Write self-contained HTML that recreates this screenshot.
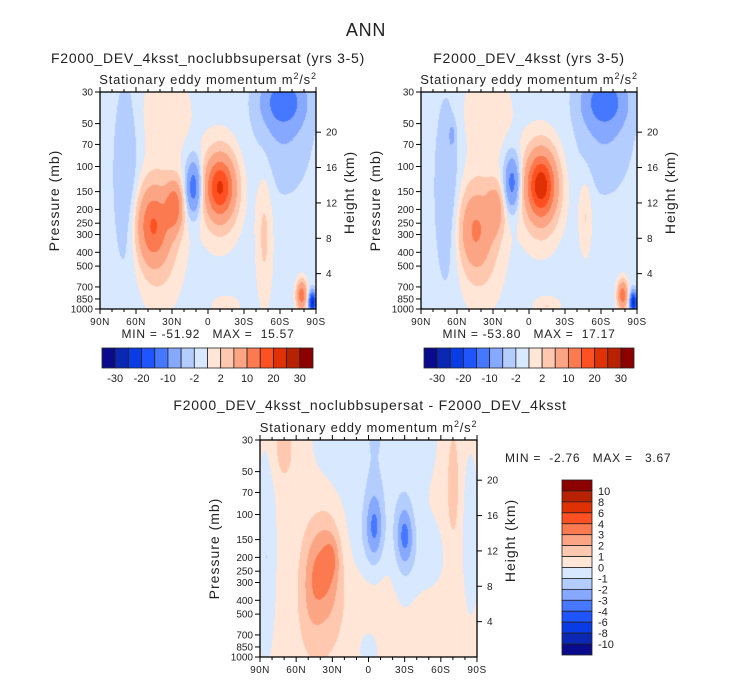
<!DOCTYPE html>
<html><head><meta charset="utf-8">
<style>
html,body{margin:0;padding:0;background:#fff;}
#wrap{position:relative;width:733px;height:680px;overflow:hidden;font-family:"Liberation Sans",sans-serif;}
canvas{position:absolute;}
svg{position:absolute;left:0;top:0;}
text{font-family:"Liberation Sans",sans-serif;fill:#222;}
.t{letter-spacing:0.75px;}
</style></head>
<body>
<div id="wrap">
<canvas id="c1" style="left:100px;top:92px" width="216" height="217"></canvas>
<canvas id="c2" style="left:421px;top:92px" width="216" height="217"></canvas>
<canvas id="c3" style="left:260px;top:440px" width="217" height="217"></canvas>
<svg id="s" width="733" height="680">
<text x="366" y="36" font-size="18" text-anchor="middle" class="t">ANN</text>
<text x="208" y="63" font-size="14" text-anchor="middle" class="t">F2000_DEV_4ksst_noclubbsupersat (yrs 3-5)</text>
<text x="529" y="63" font-size="14" text-anchor="middle" class="t">F2000_DEV_4ksst (yrs 3-5)</text>
<text x="370" y="410" font-size="14" text-anchor="middle" class="t">F2000_DEV_4ksst_noclubbsupersat - F2000_DEV_4ksst</text>
<text x="208" y="338" font-size="12" text-anchor="middle" class="t" xml:space="preserve">MIN = -51.92   MAX =  15.57</text>
<text x="529" y="338" font-size="12" text-anchor="middle" class="t" xml:space="preserve">MIN = -53.80   MAX =  17.17</text>
<text x="505" y="462" font-size="12" class="t" xml:space="preserve">MIN =  -2.76   MAX =   3.67</text>
</svg>
</div>
<script>
// ---- data: gaussian features (lat deg, pressure mb, amplitude, lat-width, log10p-width)
const p1Base = -1;
const p1Lat = [46, 28, 40, 35, -10, -10, 12, 68, -63, -63, -47, -78, -87, -15];
const p1P   = [260,190,300, 40, 140, 150,140,120, 35,  50, 300, 800, 900, 960];
const p1Amp = [13, 12, 4,  2.5, 17,  5, -13, -3.5,-10, -4, 3.5, 14, -25, 3];
const p1SL  = [9,  5,  14, 15,  8,  12, 4.5, 7,  12, 15,  5,   3,  2,  8];
const p1SP  = [.18,.12,.35,.2, .14,.25,.13,.45,.12,.3, .35,.07,.05,.05];

const p2Base = -1;
const p2Lat = [45, 28, 40, 35, -10, -10, 14, 68, 64, -63, -63, -47, -78, -87, -15];
const p2P   = [280,200,300, 40, 135, 150,130,150, 60,  35,  50, 220, 800, 900, 960];
const p2Amp = [8,  7,  4,  2.5, 19,  6, -12, -3.5,-4,-10, -4, 3.2, 14, -25, 3];
const p2SL  = [9,  5,  14, 15,  8,  12, 4.5, 7,  2,  12, 15,  4,   3,  2,  8];
const p2SP  = [.18,.12,.35,.2, .15,.25,.13,.45,.06,.12,.3, .2, .07,.05,.05];

const p3Base = 0.5;
const p3Lat = [-5, 85, -85, -5, 0,  -30, -30, 35, 47, 30, 40, 70, -70, 0,  -50];
const p3P   = [30, 200,150,120, 150, 140, 180,230,300,200,400, 35, 60, 900, 200];
const p3Amp = [-1.5,-1.5,-1.2,-2.5,-1,-2.5,-1, 2.2,1.2,1, 0.8,1.2,1.3,-1, -0.8];
const p3SL  = [35, 6,  5,  5,  12,  5,  8,  8,  6,  4, 14, 6,  4,  6,  12];
const p3SP  = [.4, .5, .4, .18,.2, .15,.3, .25,.25,.1,.35,.15,.3, .1, .2];

const levelsTop = [-30,-25,-20,-15,-10,-5,-2,0,2,5,10,15,20,25,30];
const levelsDiff = [-10,-8,-6,-4,-3,-2,-1,0,1,2,3,4,6,8,10];
const labelsTop = ["-30","-20","-10","-2","2","10","20","30"];
const labelsDiff = ["10","8","6","4","3","2","1","0","-1","-2","-3","-4","-6","-8","-10"];
const presTicks = [30,50,70,100,150,200,250,300,400,500,700,850,1000];
const heightTicks = [4,8,12,16,20];
const latTicks = [90,60,30,0,-30,-60,-90];
const latLabels = ["90N","60N","30N","0","30S","60S","90S"];

const colors = ["#0a0a8c","#0a28b4","#0a3ce6","#1e55ff","#4678ff","#87a8ff","#b4cdff","#d7e8ff",
                "#ffe6d7","#ffc8af","#fca584","#fc7a50","#ff5021","#e03105","#b82202","#8c0000"];

const svg = document.getElementById('s');
const NS = "http://www.w3.org/2000/svg";
function mk(tag, attrs, parent){const e=document.createElementNS(NS,tag);for(const k in attrs)e.setAttribute(k,attrs[k]);(parent||svg).appendChild(e);return e;}

function fieldVal(base,la,pp,am,sl,sp,lat,p){
  let v=base;const lp=Math.log10(p);
  for(let i=0;i<la.length;i++){
    const a=(lat-la[i])/sl[i], b=(lp-Math.log10(pp[i]))/sp[i];
    v+=am[i]*Math.exp(-0.5*(a*a+b*b));
  }
  return v;
}
function levelIdx(v,lev){let i=0;while(i<lev.length&&v>=lev[i])i++;return i;}
function hex(c){return [parseInt(c.substr(1,2),16),parseInt(c.substr(3,2),16),parseInt(c.substr(5,2),16)];}
const rgb = colors.map(hex);

function fill(id,base,la,pp,am,sl,sp,lev){
  const cv=document.getElementById(id),ctx=cv.getContext('2d');
  const W=cv.width,H=cv.height,img=ctx.createImageData(W,H);
  for(let y=0;y<H;y++){const p=30*Math.pow(1000/30,(y+.5)/H);
    for(let x=0;x<W;x++){const lat=90-(x+.5)/W*180;
      const c=rgb[levelIdx(fieldVal(base,la,pp,am,sl,sp,lat,p),lev)];
      const o=(y*W+x)*4;img.data[o]=c[0];img.data[o+1]=c[1];img.data[o+2]=c[2];img.data[o+3]=255;}}
  ctx.putImageData(img,0,0);
}
fill('c1',p1Base,p1Lat,p1P,p1Amp,p1SL,p1SP,levelsTop);
fill('c2',p2Base,p2Lat,p2P,p2Amp,p2SL,p2SP,levelsTop);
fill('c3',p3Base,p3Lat,p3P,p3Amp,p3SL,p3SP,levelsDiff);

function axes(L,T,W,H,name){
  const g=mk('g',{});
  
  
  const xs=lat=>L+(90-lat)/180*W;
  const ys=p=>T+Math.log(p/30)/Math.log(1000/30)*H;
  mk('rect',{x:L,y:T,width:W,height:H,fill:'none',stroke:'#000','stroke-width':1.3},g);
  for(let lat=90;lat>=-90;lat-=10){const x=xs(lat),len=lat%30===0?5:3;
    mk('line',{x1:x,y1:T,x2:x,y2:T-len,stroke:'#000'},g);
    mk('line',{x1:x,y1:T+H,x2:x,y2:T+H+len,stroke:'#000'},g);}
  latTicks.forEach((lat,i)=>{const t=mk('text',{x:xs(lat),y:T+H+16,'font-size':10,'text-anchor':'middle','letter-spacing':'0.5px'},g);t.textContent=latLabels[i];
    
    });
  presTicks.forEach(p=>{const y=ys(p);mk('line',{x1:L,y1:y,x2:L-5,y2:y,stroke:'#000'},g);
    const t=mk('text',{x:L-7,y:y+3.5,'font-size':10,'text-anchor':'end'},g);t.textContent=p;
    
    });
  heightTicks.forEach(z=>{const y=ys(1000*Math.exp(-z/7));mk('line',{x1:L+W,y1:y,x2:L+W+5,y2:y,stroke:'#000'},g);
    const t=mk('text',{x:L+W+10,y:y+3.5,'font-size':10},g);t.textContent=z;
    
    });
  const sub=mk('text',{x:L+W/2,y:T-8,'font-size':13,'text-anchor':'middle','letter-spacing':'0.8px'},g);
  sub.innerHTML='Stationary eddy momentum  m<tspan dy="-5" font-size="9">2</tspan><tspan dy="5">/s</tspan><tspan dy="-5" font-size="9">2</tspan>';
  
  
  const yt=mk('text',{x:0,y:0,'font-size':14,'text-anchor':'middle','letter-spacing':'1px',transform:`translate(${L-41},${T+H/2}) rotate(-90)`},g);
  yt.textContent='Pressure (mb)';
  
  
  const ht=mk('text',{x:0,y:0,'font-size':14,'text-anchor':'middle','letter-spacing':'1px',fill:'#666',transform:`translate(${L+W+38},${T+H/2-8}) rotate(-90)`},g);
  ht.textContent='Height (km)';
  
  
}
axes(100,92,216,217,'panel1');
axes(421,92,216,217,'panel2');
axes(260,440,217,217,'panel3');

function hbar(L,T,W,H,name){
  const g=mk('g',{});
  
  
  const bw=W/colors.length;
  colors.forEach((c,i)=>{const r=mk('rect',{x:L+i*bw,y:T,width:bw,height:H,fill:c,stroke:'#222','stroke-width':0.8},g);
    
    });
  labelsTop.forEach((s,i)=>{const t=mk('text',{x:L+(2*i+1)*bw,y:T+H+14,'font-size':11,'text-anchor':'middle'},g);t.textContent=s;
    
    });
}
hbar(102,348,211,20,'colorbar-panel1');
hbar(424,348,210,20,'colorbar-panel2');

(function(){
  const L=562,T=480,W=30,H=175,n=colors.length,bh=H/n;
  const g=mk('g',{});
  
  
  for(let i=0;i<n;i++){const r=mk('rect',{x:L,y:T+i*bh,width:W,height:bh,fill:colors[n-1-i],stroke:'#222','stroke-width':0.8},g);
    
    }
  labelsDiff.forEach((s,i)=>{const t=mk('text',{x:L+W+6,y:T+(i+1)*bh+4,'font-size':11},g);t.textContent=s;
    
    });
})();
</script>
</body></html>
